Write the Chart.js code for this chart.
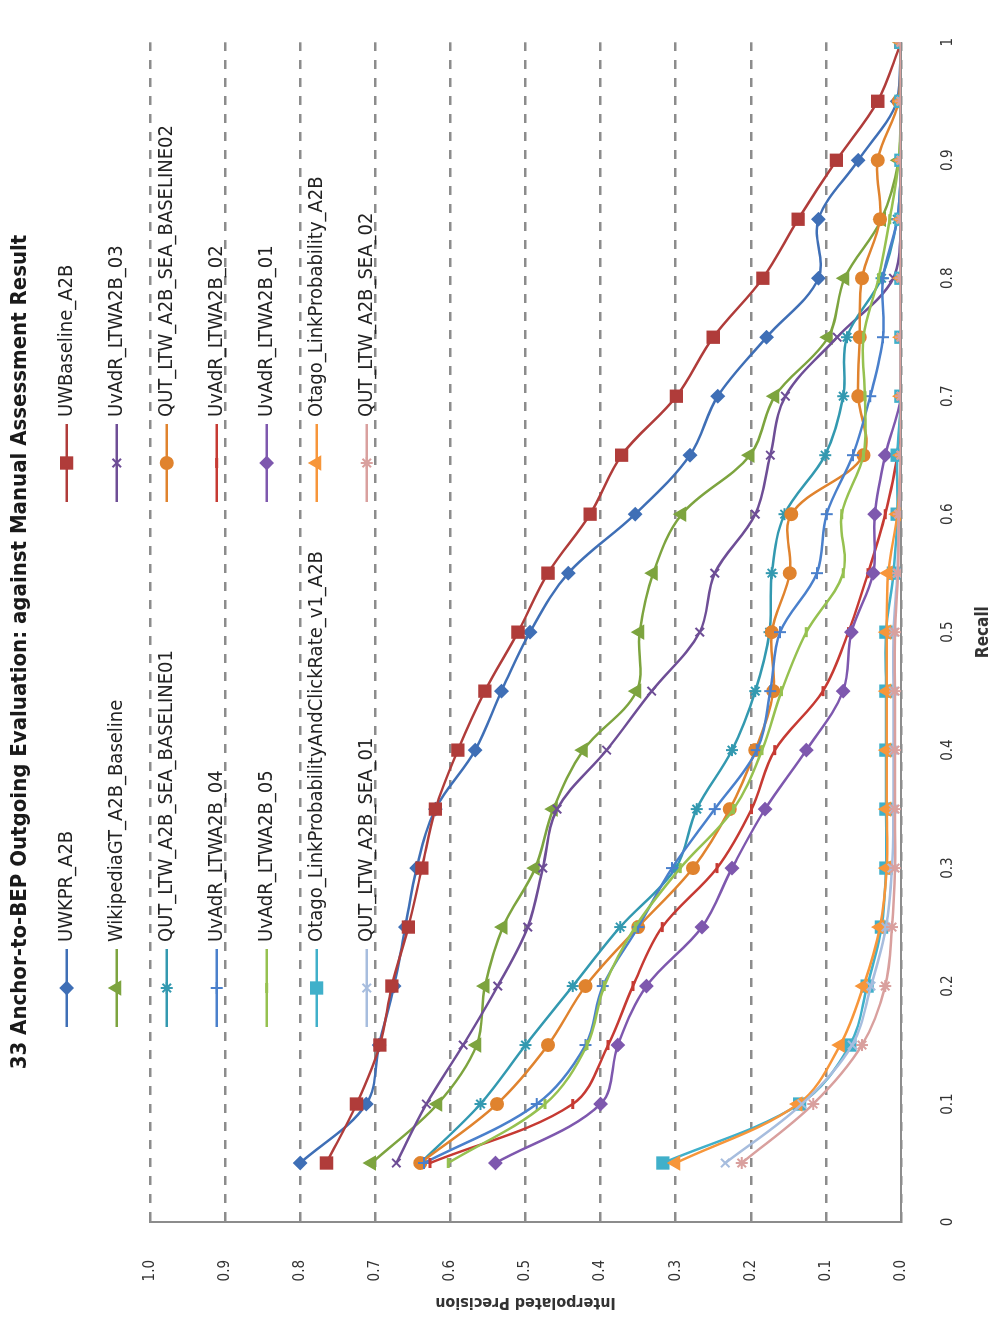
<!DOCTYPE html>
<html>
<head>
<meta charset="utf-8">
<script src="https://cdn.jsdelivr.net/npm/chart.js"></script>
<style>
  html, body { margin: 0; padding: 0; background: #fff; overflow: hidden; }
  /* the chart was photographed on its side: draw it upright, then turn it */
  #wrap {
    position: absolute; left: 0; top: 0; width: 1317px; height: 999px;
    transform-origin: 0 0; transform: translate(0, 1317px) rotate(-90deg);
  }
</style>
</head>
<body>
<div id="wrap"><canvas id="chart" width="1317" height="999" style="width:1317px;height:999px"></canvas></div>
<script>
const titleText = "33 Anchor-to-BEP Outgoing Evaluation: against Manual Assessment Result";

const recall = [0.05, 0.1, 0.15, 0.2, 0.25, 0.3, 0.35, 0.4, 0.45, 0.5,
                0.55, 0.6, 0.65, 0.7, 0.75, 0.8, 0.85, 0.9, 0.95, 1.0];
const xTickLabels = ["0", "0.1", "0.2", "0.3", "0.4", "0.5", "0.6", "0.7", "0.8", "0.9", "1"];
const yTickLabels = ["0.0", "0.1", "0.2", "0.3", "0.4", "0.5", "0.6", "0.7", "0.8", "0.9", "1.0"];

const seriesNames = [
  "UWKPR_A2B", "UWBaseline_A2B",
  "WikipediaGT_A2B_Baseline", "UvAdR_LTWA2B_03",
  "QUT_LTW_A2B_SEA_BASELINE01", "QUT_LTW_A2B_SEA_BASELINE02",
  "UvAdR_LTWA2B_04", "UvAdR_LTWA2B_02",
  "UvAdR_LTWA2B_05", "UvAdR_LTWA2B_01",
  "Otago_LinkProbabilityAndClickRate_v1_A2B", "Otago_LinkProbability_A2B",
  "QUT_LTW_A2B_SEA_01", "QUT_LTW_A2B_SEA_02"
];

const uwkpr          = [0.800, 0.712, 0.695, 0.675, 0.660, 0.645, 0.620, 0.567, 0.532, 0.494, 0.443, 0.354, 0.281, 0.244, 0.179, 0.110, 0.110, 0.057, 0.005, 0.000];
const uwBaseline     = [0.765, 0.725, 0.694, 0.678, 0.656, 0.638, 0.620, 0.590, 0.554, 0.510, 0.470, 0.414, 0.372, 0.299, 0.250, 0.184, 0.137, 0.086, 0.031, 0.000];
const wikipediaGT    = [0.705, 0.617, 0.565, 0.554, 0.530, 0.487, 0.463, 0.423, 0.352, 0.348, 0.330, 0.292, 0.201, 0.168, 0.097, 0.075, 0.026, 0.003, 0.000, 0.000];
const uvadr03        = [0.672, 0.632, 0.583, 0.537, 0.497, 0.477, 0.458, 0.392, 0.332, 0.268, 0.248, 0.194, 0.174, 0.154, 0.085, 0.010, 0.000, 0.000, 0.000, 0.000];
const qutBaseline01  = [0.640, 0.560, 0.500, 0.437, 0.374, 0.300, 0.272, 0.225, 0.194, 0.175, 0.172, 0.155, 0.101, 0.077, 0.072, 0.026, 0.005, 0.000, 0.000, 0.000];
const qutBaseline02  = [0.640, 0.538, 0.470, 0.420, 0.350, 0.277, 0.228, 0.194, 0.170, 0.172, 0.148, 0.146, 0.050, 0.057, 0.055, 0.052, 0.028, 0.031, 0.003, 0.000];
const uvadr04        = [0.635, 0.485, 0.420, 0.397, 0.350, 0.305, 0.248, 0.192, 0.174, 0.161, 0.112, 0.099, 0.064, 0.041, 0.024, 0.024, 0.005, 0.000, 0.000, 0.000];
const uvadr02        = [0.627, 0.437, 0.390, 0.357, 0.318, 0.245, 0.199, 0.168, 0.104, 0.070, 0.044, 0.021, 0.005, 0.000, 0.000, 0.000, 0.000, 0.000, 0.000, 0.000];
const uvadr05        = [0.603, 0.474, 0.418, 0.395, 0.354, 0.294, 0.223, 0.185, 0.159, 0.126, 0.077, 0.079, 0.050, 0.048, 0.050, 0.030, 0.015, 0.003, 0.000, 0.000];
const uvadr01        = [0.540, 0.400, 0.377, 0.339, 0.265, 0.225, 0.181, 0.126, 0.077, 0.066, 0.037, 0.035, 0.021, 0.000, 0.000, 0.000, 0.000, 0.000, 0.000, 0.000];
const otagoClickRate = [0.317, 0.135, 0.068, 0.045, 0.026, 0.020, 0.020, 0.020, 0.020, 0.020, 0.010, 0.005, 0.005, 0.000, 0.000, 0.000, 0.000, 0.000, 0.000, 0.000];
const otagoLinkProb  = [0.300, 0.137, 0.081, 0.050, 0.028, 0.019, 0.019, 0.019, 0.019, 0.019, 0.017, 0.005, 0.000, 0.000, 0.000, 0.000, 0.000, 0.000, 0.000, 0.000];
const qutSea01       = [0.234, 0.132, 0.065, 0.040, 0.020, 0.012, 0.010, 0.010, 0.010, 0.010, 0.005, 0.003, 0.000, 0.000, 0.000, 0.000, 0.000, 0.000, 0.000, 0.000];
const qutSea02       = [0.212, 0.117, 0.052, 0.021, 0.012, 0.008, 0.008, 0.008, 0.008, 0.008, 0.004, 0.003, 0.000, 0.000, 0.000, 0.000, 0.000, 0.000, 0.000, 0.000];

const seriesValues = [uwkpr, uwBaseline, wikipediaGT, uvadr03, qutBaseline01, qutBaseline02,
  uvadr04, uvadr02, uvadr05, uvadr01, otagoClickRate, otagoLinkProb, qutSea01, qutSea02];

const seriesColors = ["#3f6fb6", "#b03c3a", "#7da43f", "#6e4e96", "#3399b0", "#e0832e",
  "#4a80cc", "#c63a33", "#96c150", "#7e58ae", "#40b0ca", "#f7963a", "#a7bdde", "#d9a09e"];
const seriesMarkers = ["rectRot", "rect", "triangle", "crossRot", "star", "circle",
  "cross", "line", "line", "rectRot", "rect", "triangle", "crossRot", "star"];
const markerSizes = [6, 8, 7, 6, 6, 6, 6, 5, 5, 6, 8, 7, 6, 6];

const narrow = '"Liberation Sans Narrow", "DejaVu Sans Condensed", "Liberation Sans", sans-serif';

const datasets = seriesNames.map((name, i) => ({
  label: name,
  data: recall.map((r, j) => ({ x: r, y: seriesValues[i][j] })),
  borderColor: seriesColors[i],
  backgroundColor: seriesColors[i],
  pointBackgroundColor: seriesColors[i],
  pointBorderColor: seriesColors[i],
  pointStyle: seriesMarkers[i],
  pointRadius: markerSizes[i],
  pointBorderWidth: seriesMarkers[i] === "line" ? 3 : 2,
  borderWidth: 2.5,
  tension: 0.35,
  order: -i // later series sit on top, like the original
}));

// title and the two-column key drawn inside the top of the plot
const sideLegend = {
  id: "sideLegend",
  afterDraw(chart) {
    const ctx = chart.ctx;
    ctx.save();
    ctx.font = "bold 22px " + narrow;
    ctx.fillStyle = "#1a1a1a";
    ctx.textAlign = "center";
    ctx.textBaseline = "middle";
    ctx.fillText(titleText, 665, 20);

    ctx.font = "20px " + narrow;
    ctx.textAlign = "left";
    chart.data.datasets.forEach((ds, i) => {
      const col = i % 2;
      const row = Math.floor(i / 2);
      const y = 66.7 + row * 50;
      const x0 = col === 0 ? 290 : 815;
      ctx.strokeStyle = ds.borderColor;
      ctx.lineWidth = 2.5;
      ctx.beginPath();
      ctx.moveTo(x0, y);
      ctx.lineTo(x0 + 78, y);
      ctx.stroke();
      ctx.fillStyle = ds.pointBackgroundColor;
      ctx.strokeStyle = ds.pointBorderColor;
      ctx.lineWidth = ds.pointBorderWidth;
      Chart.helpers.drawPoint(ctx, {
        pointStyle: ds.pointStyle, radius: ds.pointRadius, borderWidth: ds.pointBorderWidth
      }, x0 + 39, y);
      ctx.fillStyle = "#222";
      ctx.fillText(ds.label, x0 + 85, y);
    });
    ctx.restore();
  }
};

new Chart(document.getElementById("chart").getContext("2d"), {
  type: "line",
  data: { datasets },
  plugins: [sideLegend],
  options: {
    responsive: false,
    animation: false,
    devicePixelRatio: 1,
    layout: { padding: { top: 150, right: 17, left: 0, bottom: 0 } },
    plugins: {
      legend: { display: false },
      tooltip: { enabled: false },
      title: { display: false }
    },
    scales: {
      x: {
        type: "linear",
        min: 0,
        max: 1,
        afterFit: (s) => { s.height = 98; },
        ticks: {
          stepSize: 0.1,
          padding: 38,
          color: "#333",
          font: { family: narrow, size: 15 },
          callback: (v, i) => xTickLabels[i]
        },
        grid: { drawOnChartArea: false, drawTicks: false },
        border: { color: "#8c8c8c", width: 2 },
        title: {
          display: true,
          text: "Recall",
          color: "#333",
          font: { family: narrow, size: 17, weight: "bold" },
          padding: { top: 5, bottom: 5 }
        }
      },
      y: {
        min: 0,
        max: 1,
        afterFit: (s) => { s.width = 95; },
        ticks: {
          stepSize: 0.1,
          padding: 38,
          color: "#333",
          font: { family: narrow, size: 15 },
          callback: (v, i) => yTickLabels[i]
        },
        grid: { color: "#8c8c8c", lineWidth: 2.5, drawTicks: false },
        border: { color: "#8c8c8c", width: 2, dash: [9, 9] },
        title: {
          display: true,
          text: "Interpolated Precision",
          color: "#333",
          font: { family: narrow, size: 16, weight: "bold" },
          padding: { top: 5, bottom: 5 }
        }
      }
    }
  }
});
</script>
</body>
</html>
